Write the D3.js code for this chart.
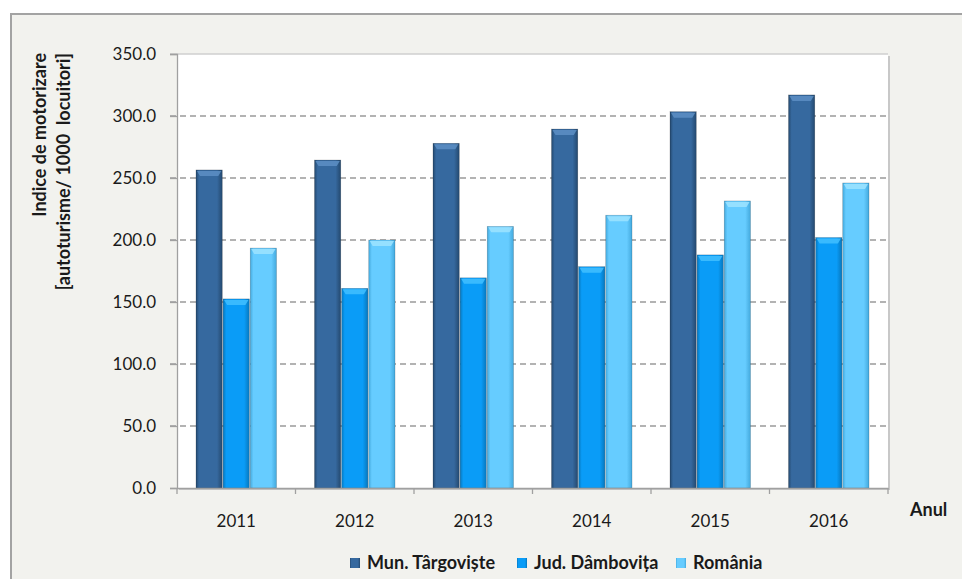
<!DOCTYPE html>
<html>
<head>
<meta charset="utf-8">
<script src="https://cdn.jsdelivr.net/npm/d3@7"></script>
<style>
  html, body { margin: 0; padding: 0; background: #ffffff; }
  svg { display: block; }
  text { font-family: Lato, "Open Sans", sans-serif; fill: #1a1a1a; }
</style>
</head>
<body>
<svg id="chart" width="962" height="579"></svg>
<script>
const years = ["2011", "2012", "2013", "2014", "2015", "2016"];
const seriesNames = ["Mun. Târgoviște", "Jud. Dâmbovița", "România"];
const targoviste = [256.5, 264.5, 278.0, 289.5, 303.5, 317.0];
const dambovita = [152.5, 161.0, 169.5, 178.5, 188.0, 202.0];
const romania = [193.5, 200.0, 211.0, 220.0, 231.5, 246.0];
const yTicks = [0, 50, 100, 150, 200, 250, 300, 350];
const colors = ["#36699f", "#0a9cf7", "#66ccff"];
const edgeColors = ["#24496f", "#0677bd", "#43a9dd"];
const capColors = ["#5d8fc4", "#42c0ff", "#9de3ff"];

const seriesValues = [targoviste, dambovita, romania];

const svg = d3.select("#chart");
const W = 962, H = 579;
const margin = { left: 177, right: 74, top: 54, bottom: 91 };
const plotW = W - margin.left - margin.right;
const plotH = H - margin.top - margin.bottom;

// outer frame
svg.append("rect").attr("x", 0).attr("y", 0).attr("width", W).attr("height", H).attr("fill", "#ffffff");
svg.append("rect").attr("x", 11).attr("y", 14).attr("width", W + 10).attr("height", H + 10)
  .attr("fill", "#f2f2ee").attr("stroke", "#a3a3a3").attr("stroke-width", 2);

const defs = svg.append("defs");
colors.forEach((c, i) => {
  const g = defs.append("linearGradient").attr("id", "grad" + i)
    .attr("x1", "0%").attr("x2", "100%").attr("y1", "0%").attr("y2", "0%");
  g.append("stop").attr("offset", "0%").attr("stop-color", edgeColors[i]);
  g.append("stop").attr("offset", "12%").attr("stop-color", c);
  g.append("stop").attr("offset", "80%").attr("stop-color", c);
  g.append("stop").attr("offset", "100%").attr("stop-color", edgeColors[i]);
});

const x = d3.scaleBand().domain(years).range([margin.left, margin.left + plotW]).paddingInner(0).paddingOuter(0);
const xs = d3.scaleBand().domain(d3.range(3)).range([0, x.bandwidth()]).paddingOuter(0.7).paddingInner(0.03);
const y = d3.scaleLinear().domain([0, 350]).range([margin.top + plotH, margin.top]);

// plot area with shadow
svg.append("rect").attr("x", margin.left + 2).attr("y", margin.top + 2).attr("width", plotW).attr("height", plotH)
  .attr("fill", "#c8c8c8");
svg.append("rect").attr("x", margin.left).attr("y", margin.top).attr("width", plotW).attr("height", plotH)
  .attr("fill", "#ffffff");

// grid lines
svg.append("g").selectAll("line").data(yTicks.filter(t => t > 0 && t < 350)).join("line")
  .attr("x1", margin.left - 7).attr("x2", margin.left + plotW)
  .attr("y1", d => y(d)).attr("y2", d => y(d))
  .attr("stroke", "#9a9a9a").attr("stroke-width", 1.3).attr("stroke-dasharray", "6,4");
svg.append("line").attr("x1", margin.left - 7).attr("x2", margin.left + plotW)
  .attr("y1", y(350)).attr("y2", y(350)).attr("stroke", "#cfcfcf").attr("stroke-width", 1.3);

// bars
const groups = svg.append("g").selectAll("g").data(years).join("g")
  .attr("transform", d => `translate(${x(d)},0)`);
groups.each(function (yr, yi) {
  const g = d3.select(this);
  seriesValues.forEach((vals, si) => {
    const v = vals[yi];
    const bx = xs(si), bw = xs.bandwidth();
    g.append("rect").attr("x", bx).attr("y", y(v)).attr("width", bw).attr("height", y(0) - y(v))
      .attr("fill", `url(#grad${si})`).attr("stroke", "rgba(0,0,0,0.25)").attr("stroke-width", 0.6);
    g.append("path")
      .attr("d", `M${bx + 1},${y(v) + 1} L${bx + bw - 1},${y(v) + 1} L${bx + bw - 4},${y(v) + 6} L${bx + 4},${y(v) + 6} Z`)
      .attr("fill", capColors[si]).attr("opacity", 0.85);
  });
});

// y axis
const yAxis = d3.axisLeft(y).tickValues(yTicks).tickFormat(d3.format(".1f")).tickSize(7).tickPadding(14);
const ya = svg.append("g").attr("transform", `translate(${margin.left},0)`).call(yAxis);
ya.select(".domain").attr("stroke", "#a0a0a0").attr("stroke-width", 1.3);
ya.selectAll(".tick line").attr("stroke", "#a0a0a0").attr("stroke-width", 1.3);
ya.selectAll(".tick text").style("font-size", "17px").style("font-family", "Lato, sans-serif").attr("fill", "#1a1a1a");

// x axis
const xa = svg.append("g").attr("transform", `translate(0,${y(0)})`)
  .call(d3.axisBottom(x).tickSize(0).tickPadding(27));
xa.select(".domain").attr("stroke", "#a0a0a0").attr("stroke-width", 1.3);
xa.selectAll(".tick text").style("font-size", "17px").style("font-family", "Lato, sans-serif").attr("fill", "#1a1a1a");
svg.append("g").selectAll("line").data(years.concat(["end"])).join("line")
  .attr("x1", d => d === "end" ? margin.left + plotW : x(d))
  .attr("x2", d => d === "end" ? margin.left + plotW : x(d))
  .attr("y1", y(0)).attr("y2", y(0) + 6)
  .attr("stroke", "#a0a0a0").attr("stroke-width", 1.3);

// axis titles
svg.append("text").attr("transform", `translate(46,53) rotate(-90)`)
  .attr("text-anchor", "end").style("font-size", "18px").style("font-weight", "bold")
  .text("Indice de motorizare");
svg.append("text").attr("transform", `translate(70,53) rotate(-90)`)
  .attr("text-anchor", "end").style("font-size", "18px").style("font-weight", "bold")
  .attr("xml:space", "preserve").text("[autoturisme/ 1000  locuitori]");
svg.append("text").attr("x", 910).attr("y", 516).style("font-size", "18px").style("font-weight", "bold").text("Anul");

// legend
const legendX = [350, 517, 676];
const leg = svg.append("g").selectAll("g").data(seriesNames).join("g")
  .attr("transform", (d, i) => `translate(${legendX[i]},558)`);
leg.append("rect").attr("x", 0).attr("y", 0).attr("width", 10).attr("height", 10)
  .attr("fill", (d, i) => `url(#grad${i})`);
leg.append("text").attr("x", 17).attr("y", 11).style("font-size", "18px").style("font-weight", "bold").text(d => d);
</script>
</body>
</html>
